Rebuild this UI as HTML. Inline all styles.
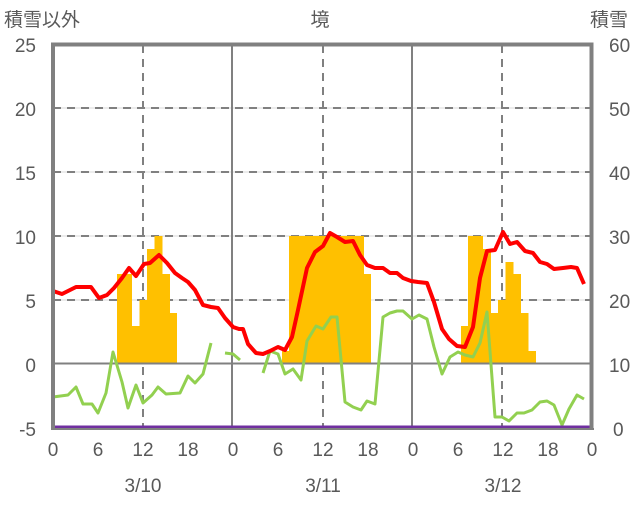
<!DOCTYPE html>
<html><head><meta charset="utf-8"><style>
body{margin:0;background:#fff;}
svg text{font-family:"Liberation Sans","Noto Sans CJK JP",sans-serif;fill:#595959;}
</style></head><body>
<svg width="636" height="501" xmlns="http://www.w3.org/2000/svg">
<g stroke="#d9d9d9" stroke-width="1">
<line x1="53" y1="108" x2="592" y2="108"/><line x1="53" y1="172" x2="592" y2="172"/>
<line x1="53" y1="236" x2="592" y2="236"/><line x1="53" y1="300" x2="592" y2="300"/>
</g>
<g stroke="#808080" stroke-width="2" stroke-dasharray="8,6">
<line x1="53" y1="108" x2="592" y2="108"/><line x1="53" y1="172" x2="592" y2="172"/>
<line x1="53" y1="236" x2="592" y2="236"/><line x1="53" y1="300" x2="592" y2="300"/>
<line x1="143" y1="45" x2="143" y2="428"/><line x1="323" y1="45" x2="323" y2="428"/><line x1="502" y1="45" x2="502" y2="428"/>
</g>
<g fill="#ffc000">
<rect x="117" y="274" width="15" height="90"/><rect x="132" y="326" width="8" height="38"/>
<rect x="139.5" y="300" width="8" height="64"/><rect x="147" y="249" width="8" height="115"/>
<rect x="154.5" y="236" width="8" height="128"/><rect x="162" y="274" width="8" height="90"/>
<rect x="169.5" y="313" width="7.5" height="51"/>
<rect x="282" y="351" width="8" height="13"/><rect x="289" y="236" width="75" height="128"/>
<rect x="363" y="274" width="8" height="90"/>
<rect x="461" y="326" width="8" height="38"/><rect x="468" y="236" width="15" height="128"/>
<rect x="482" y="249" width="9" height="115"/><rect x="490.5" y="313" width="8" height="51"/>
<rect x="498" y="300" width="8" height="64"/><rect x="505.5" y="262" width="8" height="102"/>
<rect x="513" y="274" width="8" height="90"/><rect x="520.5" y="313" width="8" height="51"/>
<rect x="528" y="351" width="8" height="13"/>
</g>
<g stroke="#808080" stroke-width="2">
<line x1="53" y1="363.5" x2="592" y2="363.5"/>
<line x1="232" y1="45" x2="232" y2="428"/><line x1="412" y1="45" x2="412" y2="428"/>
</g>
<g fill="none" stroke="#92d050" stroke-width="3" stroke-linejoin="round">
<polyline points="53,397 68,395 76,387 83,404 92,404 98,413 106,393 113,352 122,382 128,408 136,385 143,403 152,395 158,387 166,394 180,393 188,376 195,383 203,374 211,343"/>
<polyline points="225,353 233,354 240,360"/>
<polyline points="263,373 270,351 278,354 285,374 293,369 301,380 307,341 316,326 323,329 331,317 337,317 345,402 353,407 361,410 367,401 375,404 383,317 390,313 397,311 403,311 412,319 419,315 427,319 434,347 442,374 450,357 458,352 465,355 473,357 480,343 487,312 495,417 502,417 509,421 517,413 524,413 532,410 540,402 547,401 554,405 562,425 569,409 577,395 584,399"/>
</g>
<polyline fill="none" stroke="#ff0000" stroke-width="4" stroke-linejoin="round" points="53,291 62,294 76,287 91,287 99,298 107,295 114,288 122,278 129,268 136,276 144,264 150,263 159,255 167,263 175,273 182,278 188,282 195,290 203,305 211,307 218,308 225,318 233,327 239,329 243,329 248,344 256,353 263,354 270,351 278,347 285,350 292,337 298,310 307,268 315,252 323,246 330,233 337,237 345,242 353,241 360,255 367,265 375,268 383,268 390,273 397,273 403,278 411,281 418,282 427,283 434,302 442,329 449,339 457,346 465,347 473,327 480,278 487,251 495,250 503,232 510,244 517,242 525,251 533,253 540,262 547,264 554,269 563,268 571,267 577,268 584,284"/>
<line x1="53" y1="427" x2="592" y2="427" stroke="#7030a0" stroke-width="3"/>
<path d="M53,428 V44.5 H591.5 V428" fill="none" stroke="#808080" stroke-width="4"/>
<line x1="51" y1="429" x2="594" y2="429" stroke="#808080" stroke-width="2"/>
<g font-size="19" text-anchor="end">
<text x="36" y="52">25</text><text x="36" y="116">20</text><text x="36" y="180">15</text>
<text x="36" y="244">10</text><text x="36" y="308">5</text><text x="36" y="372">0</text><text x="36" y="436">-5</text>
</g>
<g font-size="19" text-anchor="start">
<text x="609" y="52">60</text><text x="609" y="116">50</text><text x="609" y="180">40</text>
<text x="609" y="244">30</text><text x="609" y="308">20</text><text x="609" y="372">10</text><text x="613" y="436">0</text>
</g>
<g font-size="19" text-anchor="middle">
<text x="53" y="456">0</text><text x="98" y="456">6</text><text x="143" y="456">12</text><text x="188" y="456">18</text>
<text x="233" y="456">0</text><text x="278" y="456">6</text><text x="323" y="456">12</text><text x="368" y="456">18</text>
<text x="413" y="456">0</text><text x="458" y="456">6</text><text x="503" y="456">12</text><text x="548" y="456">18</text><text x="592" y="456">0</text>
<text x="143" y="492">3/10</text><text x="323" y="492">3/11</text><text x="503" y="492">3/12</text>
</g>
<text x="4" y="26" font-size="19">積雪以外</text>
<text x="320" y="26" font-size="19" text-anchor="middle">境</text>
<text x="590" y="26" font-size="19">積雪</text>
</svg>
</body></html>
